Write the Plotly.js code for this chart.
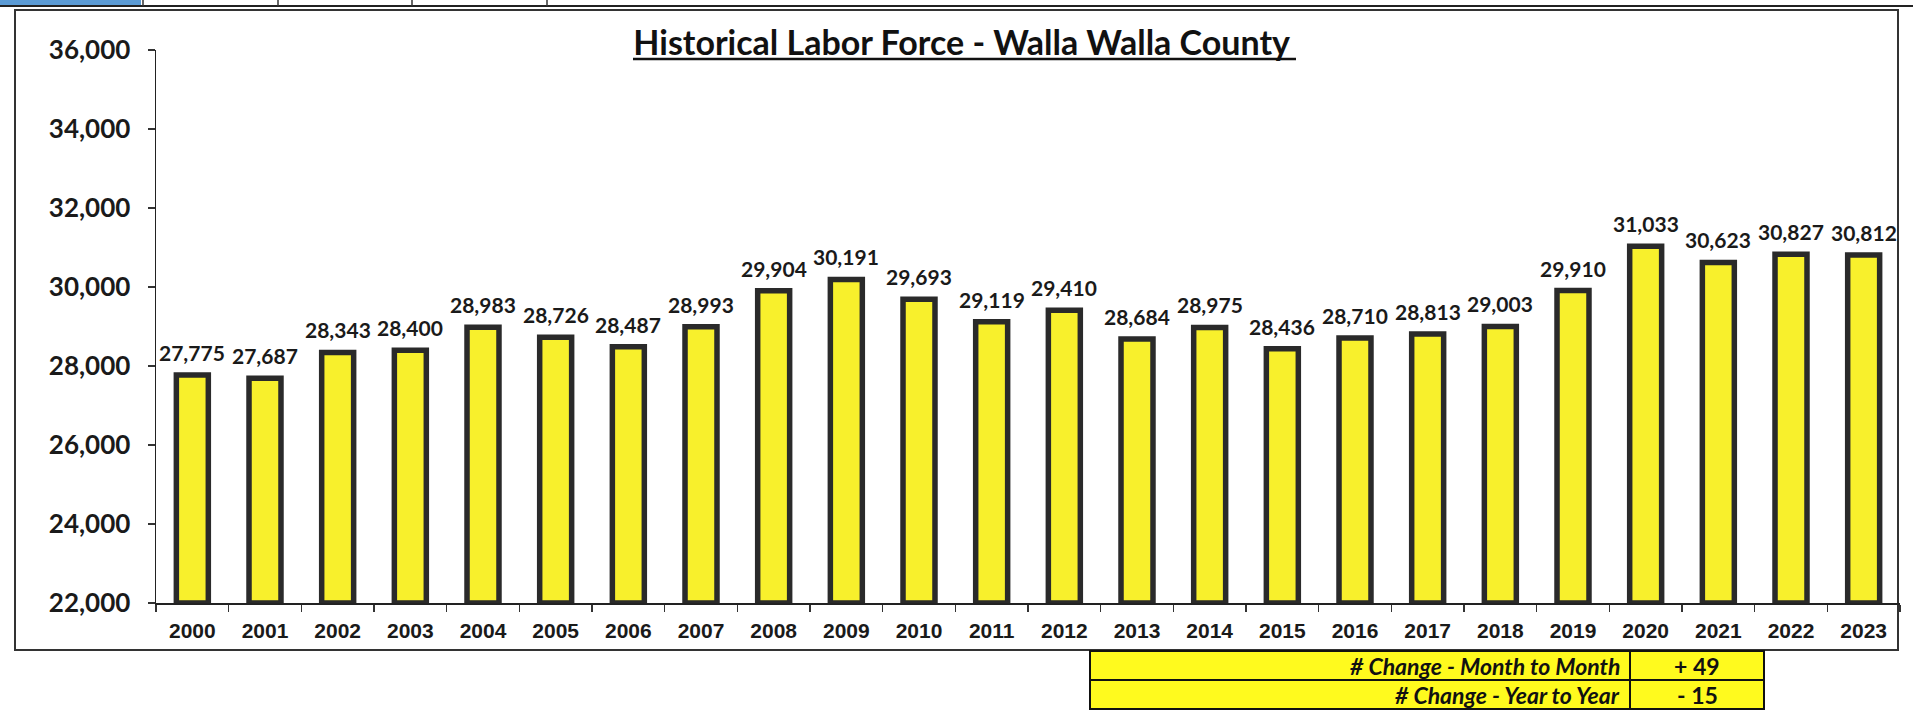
<!DOCTYPE html>
<html>
<head>
<meta charset="utf-8">
<script src="https://cdn.plot.ly/plotly-3.0.1.min.js"></script>
<style>html,body{margin:0;padding:0;background:#fff;}#chart{width:1913px;height:711px;}</style>
</head>
<body>
<div id="chart"></div>
<script>
// ---- data ----
var years = ["2000","2001","2002","2003","2004","2005","2006","2007","2008","2009","2010","2011",
             "2012","2013","2014","2015","2016","2017","2018","2019","2020","2021","2022","2023"];
var laborForce = [27775, 27687, 28343, 28400, 28983, 28726, 28487, 28993, 29904, 30191, 29693, 29119,
                  29410, 28684, 28975, 28436, 28710, 28813, 29003, 29910, 31033, 30623, 30827, 30812];
var changeLabels = ["# Change - Month to Month", "# Change - Year to Year"];
var changeValues = ["+ 49", "- 15"];
var yTicks = [22000, 24000, 26000, 28000, 30000, 32000, 34000, 36000];

// ---- geometry helpers (pixel -> paper) ----
var W = 1913, H = 711;
var mL = 156, mR = 13, mT = 50, mB = 108;
var pw = W - mL - mR, ph = H - mT - mB;
function px(x){ return (x - mL) / pw; }
function py(y){ return (H - mB - y) / ph; }

var bar = {
  type: 'bar', x: years, y: laborForce.map(function(v){ return v - 22000; }), base: 22000,
  width: 0.44,
  marker: {color: '#F8F02C', line: {color: '#2a2a2a', width: 5.5}},
  hoverinfo: 'skip'
};

var annotations = years.map(function(yr, i){
  return {x: i, y: laborForce[i], xref: 'x', yref: 'y', yanchor: 'bottom', yshift: 8,
    text: '<b>' + laborForce[i].toLocaleString('en-US') + '</b>', showarrow: false,
    font: {family: 'Lato, sans-serif', size: 21, color: '#1a1a1a'}};
});

// table texts
var rowTop = [651, 680], rowH = 29;
changeLabels.forEach(function(lab, i){
  annotations.push({xref: 'paper', yref: 'paper', x: px(1622), y: py(rowTop[i] + rowH/2),
    xanchor: 'right', yanchor: 'middle', showarrow: false, text: '<b><i>' + lab + '</i></b>',
    font: {family: 'Lato, sans-serif', size: 23, color: '#111'}});
  annotations.push({xref: 'paper', yref: 'paper', x: px(1697), y: py(rowTop[i] + rowH/2),
    xanchor: 'center', yanchor: 'middle', showarrow: false, text: '<b>' + changeValues[i] + '</b>',
    font: {family: 'Lato, sans-serif', size: 23, color: '#111'}});
});

var shapes = [
  // outer chart frame
  {type: 'rect', xref: 'paper', yref: 'paper', x0: px(15), x1: px(1898), y0: py(650), y1: py(10),
   line: {color: '#333', width: 2}, fillcolor: 'rgba(0,0,0,0)', layer: 'below'},
  // spreadsheet strip at top
  {type: 'rect', xref: 'paper', yref: 'paper', x0: px(0), x1: px(141), y0: py(6), y1: py(-2),
   line: {width: 0}, fillcolor: '#5b9bd5'},
  {type: 'line', xref: 'paper', yref: 'paper', x0: px(0), x1: px(1913), y0: py(6), y1: py(6),
   line: {color: '#222', width: 2}},
  {type: 'line', xref: 'paper', yref: 'paper', x0: px(143), x1: px(143), y0: py(0), y1: py(6), line: {color: '#333', width: 1.5}},
  {type: 'line', xref: 'paper', yref: 'paper', x0: px(278), x1: px(278), y0: py(0), y1: py(6), line: {color: '#333', width: 1.5}},
  {type: 'line', xref: 'paper', yref: 'paper', x0: px(412), x1: px(412), y0: py(0), y1: py(6), line: {color: '#333', width: 1.5}},
  {type: 'line', xref: 'paper', yref: 'paper', x0: px(547), x1: px(547), y0: py(0), y1: py(6), line: {color: '#333', width: 1.5}},
  // title underline
  {type: 'line', xref: 'paper', yref: 'paper', x0: px(633), x1: px(1296), y0: py(59), y1: py(59),
   line: {color: '#111', width: 2.5}},
  // table
  {type: 'rect', xref: 'paper', yref: 'paper', x0: px(1090), x1: px(1764), y0: py(709), y1: py(651),
   line: {color: '#111', width: 2}, fillcolor: '#FFFA1E'},
  {type: 'line', xref: 'paper', yref: 'paper', x0: px(1090), x1: px(1764), y0: py(680), y1: py(680),
   line: {color: '#111', width: 2}},
  {type: 'line', xref: 'paper', yref: 'paper', x0: px(1630), x1: px(1630), y0: py(651), y1: py(709),
   line: {color: '#111', width: 2}}
];

var layout = {
  width: W, height: H,
  margin: {l: mL, r: mR, t: mT, b: mB, pad: 0},
  paper_bgcolor: '#fff', plot_bgcolor: 'rgba(0,0,0,0)',
  showlegend: false,
  title: {text: '<b>Historical Labor Force - Walla Walla County</b>', x: 0.5027, xanchor: 'center',
    y: 1 - 43/H, yanchor: 'middle',
    font: {family: 'Lato, sans-serif', size: 34, color: '#111'}},
  xaxis: {type: 'category', showgrid: false, zeroline: false, showline: true, linecolor: '#222', linewidth: 1.5,
    ticks: 'outside', tickson: 'boundaries', ticklen: 7, tickcolor: '#333', tickwidth: 1.5, ticklabelstandoff: 8,
    tickfont: {family: 'Liberation Sans, Arial, sans-serif', size: 21, color: '#1a1a1a', weight: 'bold'},
    range: [-0.5, 23.5]},
  yaxis: {range: [22000, 36000], tickvals: yTicks, ticktext: yTicks.map(function(v){return '<b>' + v.toLocaleString('en-US') + '</b>';}),
    showgrid: false, zeroline: false, showline: true, linecolor: '#222', linewidth: 1.5,
    ticks: 'outside', ticklen: 7, tickcolor: '#333', tickwidth: 1.5, ticklabelstandoff: 12,
    tickfont: {family: 'Lato, sans-serif', size: 26, color: '#1a1a1a'}},
  annotations: annotations,
  shapes: shapes,
  bargap: 0.56
};

Plotly.newPlot('chart', [bar], layout, {staticPlot: true, displayModeBar: false});
</script>
</body>
</html>
